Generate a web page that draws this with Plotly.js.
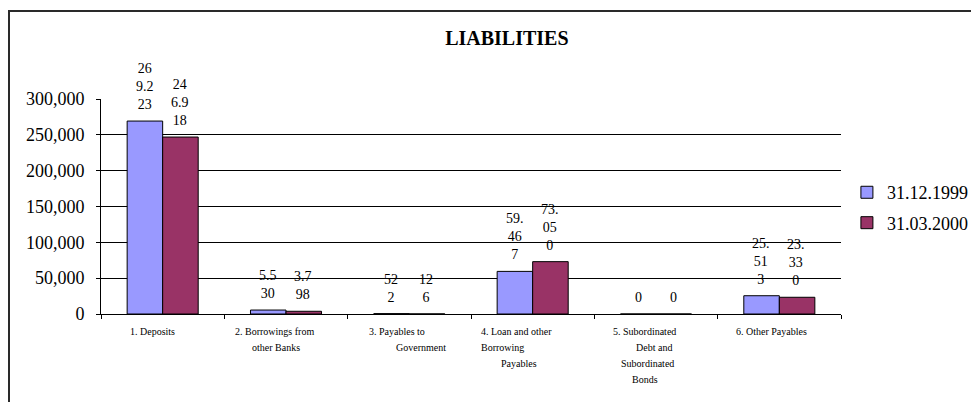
<!DOCTYPE html>
<html>
<head>
<meta charset="utf-8">
<script src="https://cdn.plot.ly/plotly-3.0.1.min.js"></script>
<style>
  html, body { margin: 0; padding: 0; width: 971px; height: 402px; overflow: hidden; background: #fff; }
  .fl { position: absolute; background: #2a2a2a; pointer-events: none; z-index: 10; }
  #ftop { left: 8px; top: 10px; width: 2000px; height: 2px; }
  #fleft { left: 8px; top: 10px; width: 2px; height: 2000px; }
  #chart { position: absolute; left: 0; top: 0; width: 971px; height: 402px; }
</style>
</head>
<body>
<div id="chart"></div>
<div id="ftop" class="fl"></div>
<div id="fleft" class="fl"></div>
<script>
// ---- data ----
const catLines = [
  ["1. Deposits"],
  ["2. Borrowings from", "other Banks"],
  ["3. Payables to", "Government"],
  ["4. Loan and other", "Borrowing", "Payables"],
  ["5. Subordinated", "Debt and", "Subordinated", "Bonds"],
  ["6. Other Payables"]
];
const categories = catLines.map(l => l.join(" "));
const seriesNames = ["31.12.1999", "31.03.2000"];
const values1999 = [269223, 5530, 522, 59467, 0, 25513];
const values2000 = [246918, 3798, 126, 73050, 0, 23330];
const labels1999 = ["26<br>9.2<br>23", "5.5<br>30", "52<br>2", "59.<br>46<br>7", "0", "25.<br>51<br>3"];
const labels2000 = ["24<br>6.9<br>18", "3.7<br>98", "12<br>6", "73.<br>05<br>0", "0", "23.<br>33<br>0"];
const yTicks = [0, 50000, 100000, 150000, 200000, 250000, 300000];

// ---- style ----
const FONT = "Liberation Serif";
const colors = ["#9999FF", "#993366"];
const lineShift = [[-10], [-12, -10], [-12, 12], [-16, -30, -14], [-12, -2, -9, -11], [-8]];

const seriesVals = [values1999, values2000];
const seriesLabels = [labels1999, labels2000];

const traces = seriesVals.map((vals, s) => ({
  type: "bar",
  name: seriesNames[s],
  x: categories,
  y: vals,
  legendgroup: "g" + s,
  marker: { color: colors[s], line: { color: "#000", width: 1 } },
  hoverinfo: "x+y"
}));

const annotations = [];
// data labels
const barShift = [-18, 17];
seriesVals.forEach((vals, s) => {
  vals.forEach((v, j) => {
    annotations.push({
      x: categories[j], y: v, xref: "x", yref: "y",
      text: seriesLabels[s][j], showarrow: false,
      xanchor: "center", yanchor: "bottom", xshift: barShift[s], yshift: 7,
      font: { family: FONT, size: 14, color: "#000" }
    });
  });
});
// category labels
catLines.forEach((lines, j) => {
  lines.forEach((t, i) => {
    annotations.push({
      x: categories[j], y: 0, xref: "x", yref: "paper",
      text: t, showarrow: false, xanchor: "center", yanchor: "middle",
      xshift: lineShift[j][i], yshift: -(17.5 + 16 * i),
      font: { family: FONT, size: 10, color: "#000" }
    });
  });
});

const layout = {
  width: 971, height: 402,
  margin: { l: 101, r: 130, t: 99, b: 88, pad: 0, autoexpand: false },
  paper_bgcolor: "#fff", plot_bgcolor: "#fff",
  font: { family: FONT, color: "#000" },
  title: {
    text: "<b>LIABILITIES</b>",
    font: { family: FONT, size: 20, color: "#000" },
    xref: "container", yref: "container", x: 0.522, y: 1 - 38 / 402,
    xanchor: "center", yanchor: "middle"
  },
  barmode: "group", bargap: 0.424, bargroupgap: 0,
  xaxis: {
    type: "category", tickson: "boundaries", ticks: "outside", ticklen: 4,
    tickcolor: "#000", showticklabels: false, showline: true, linecolor: "#000",
    linewidth: 1, showgrid: false, fixedrange: true
  },
  yaxis: {
    range: [0, 300000], tickvals: yTicks, tickformat: ",", ticks: "outside",
    ticklen: 4, tickcolor: "#000", showline: true, linecolor: "#000", linewidth: 1,
    showgrid: true, gridcolor: "#000", gridwidth: 1, zeroline: false,
    tickfont: { family: FONT, size: 18, color: "#000" }, ticklabelstandoff: 8,
    fixedrange: true
  },
  showlegend: true,
  legend: {
    x: 1.008, xanchor: "left", y: 0.495, yanchor: "middle",
    font: { family: FONT, size: 18, color: "#000" },
    bgcolor: "rgba(0,0,0,0)", traceorder: "grouped", tracegroupgap: 4
  },
  annotations: annotations
};

Plotly.newPlot("chart", traces, layout, { displayModeBar: false });
</script>
</body>
</html>
